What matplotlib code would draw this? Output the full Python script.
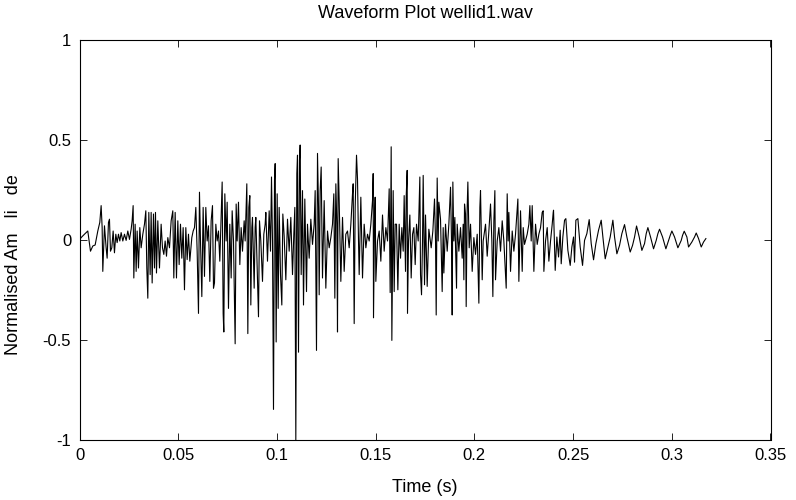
import numpy as np
import matplotlib
matplotlib.use("Agg")
import matplotlib.pyplot as plt

# Waveform of wellid1.wav: time (ms) of each turning point and its normalised amplitude
time_ms = [
    0.00, 0.83, 2.52, 4.20, 5.56, 6.74, 7.92, 9.27, 10.28, 10.96, 11.47, 11.80,
    12.65, 13.49, 14.00, 14.67, 15.18, 15.69, 16.36, 17.04, 17.71, 18.39, 19.06,
    19.74, 20.42, 21.09, 21.94, 22.78, 23.62, 24.47, 25.31, 26.16, 26.66, 27.17,
    27.51, 28.18, 28.69, 29.20, 29.87, 30.55, 31.22, 32.07, 32.91, 33.59, 34.09,
    34.60, 35.11, 35.78, 36.29, 36.80, 37.47, 37.98, 38.48, 38.99, 39.67, 40.51,
    41.35, 42.03, 42.71, 43.38, 44.06, 44.73, 45.58, 46.42, 47.26, 47.77, 48.45,
    49.12, 49.80, 50.47, 51.15, 51.82, 52.50, 53.17, 53.85, 54.53, 55.20, 55.88,
    56.89, 57.57, 58.24, 58.92, 59.59, 60.27, 60.77, 61.28, 61.96, 62.63, 63.31,
    63.98, 64.66, 65.33, 66.01, 66.68, 67.36, 67.87, 68.37, 69.05, 69.72, 70.40,
    71.07, 71.75, 72.26, 72.76, 73.10, 73.61, 74.28, 74.79, 75.46, 76.14, 76.82,
    77.32, 78.00, 78.84, 79.35, 79.85,
    80.53, 81.21, 81.88, 82.56, 83.40, 83.91, 84.75, 85.26, 85.77, 86.27, 86.78,
    87.29, 87.62, 88.47, 88.97, 89.31, 89.99, 90.66, 91.17, 91.84, 92.69, 93.36,
    94.04, 94.38, 95.22, 96.07, 96.74, 97.25, 97.75, 98.26, 98.77, 99.11, 99.61,
    100.12, 100.63, 101.13, 101.81, 102.48, 102.99, 103.66, 104.51, 105.35,
    106.20, 107.04, 107.89, 108.56, 109.07, 109.57, 110.08, 110.42, 110.93,
    111.43, 111.77, 112.28, 112.95, 113.46, 114.13, 114.98, 115.48, 116.33,
    117.17, 118.02, 118.86, 119.37, 120.04, 120.55, 121.06, 121.40, 121.90,
    122.41, 123.08, 123.93, 124.77, 125.62, 126.46, 127.31, 128.15, 128.82,
    129.33, 129.84, 130.34, 130.68, 131.02, 131.53, 132.37, 133.22, 134.06,
    134.90, 135.75, 136.59, 137.44, 138.28, 138.62, 139.13, 139.63, 140.31,
    140.81, 141.32, 141.66, 142.50, 143.35, 144.19, 145.04, 145.88, 146.72,
    147.57, 148.41, 148.75, 148.92, 149.43, 149.76, 150.10, 150.95, 151.79,
    152.63, 153.48, 154.32, 155.17, 156.01, 156.86, 157.36, 157.87, 158.21,
    158.88, 159.39, 159.90,
    160.57, 161.25, 161.92, 162.60, 163.27, 163.95, 164.45, 165.13, 165.47,
    165.97, 166.14, 166.65, 167.33, 168.00, 168.68, 169.35, 170.03, 170.70,
    171.55, 172.39, 172.73, 173.24, 173.74, 174.08, 174.76, 175.26, 176.11,
    176.95, 178.13, 178.98, 179.82, 180.33, 180.67, 181.17, 181.68, 182.02,
    182.86, 183.70, 184.21, 184.55, 185.39, 186.24, 187.08, 187.93, 188.43,
    188.77, 189.11, 189.61, 190.12, 190.97, 191.30, 192.15, 192.99, 193.84,
    194.34, 194.68, 195.02, 195.52, 195.86, 196.37, 196.71, 197.38, 198.06,
    198.90, 199.75, 200.59, 201.44, 202.28, 202.79, 203.12, 203.63, 203.97,
    204.47, 205.66, 206.50, 207.35, 208.19, 208.87, 209.37, 209.88, 210.39,
    210.72, 211.57, 212.41, 213.26, 214.10, 214.94, 216.13, 216.63, 217.14,
    217.48, 218.32, 219.17, 220.01, 220.85, 222.04, 222.54, 223.39, 224.23,
    224.74, 225.41, 226.76, 227.61, 228.12, 228.79, 229.30, 230.14, 230.99,
    231.83, 232.67, 233.52, 234.36, 234.87, 235.21, 236.05, 236.90, 237.74,
    238.58, 239.43, 239.94,
    240.10, 240.95, 241.79, 242.64, 243.48, 243.99, 244.83, 245.68, 246.35,
    247.37, 248.55, 249.39, 250.24, 250.74, 251.42, 252.43, 253.61, 254.80,
    255.81, 256.99, 258.17, 259.19, 260.37, 261.55, 262.90, 264.25, 265.10,
    266.28, 267.63, 268.81, 270.16, 271.01, 272.19, 273.54, 274.72, 276.07,
    277.25, 278.94, 280.12, 281.14, 282.15, 283.50, 284.85, 286.20, 287.05,
    287.89, 289.24, 290.76, 292.11, 292.96, 293.80, 295.32, 297.01, 298.36,
    299.21, 300.05, 301.40, 303.09, 304.78, 305.45, 306.30, 307.65, 308.49,
    310.18, 311.53, 312.38, 313.56, 314.91, 316.09, 317.27,
]

amplitude = [
    0.000, 0.012, 0.029, 0.045, -0.056, -0.030, -0.025, 0.045, 0.088, 0.172, 0.062, -0.157,
    0.071, -0.039, -0.091, 0.088, 0.104, -0.056, -0.039, 0.045, -0.064, 0.029, -0.013,
    0.029, -0.005, 0.037, -0.005, 0.029, -0.002, 0.045, 0.003, 0.054, 0.096, 0.172,
    -0.190, 0.079, -0.157, 0.045, -0.140, 0.062, -0.039, 0.029, 0.079, 0.146, -0.140,
    -0.291, 0.138, -0.173, 0.138, -0.215, 0.130, -0.140, 0.138, -0.165, 0.096, -0.140,
    0.079, -0.039, -0.072, -0.005, -0.081, 0.012, -0.039, 0.096, 0.146, -0.190, 0.138,
    -0.190, 0.096, -0.123, 0.079, -0.091, 0.062, -0.249, 0.062, -0.098, 0.029, -0.106,
    0.012, 0.045, 0.062, 0.163, -0.056, -0.367, 0.239, -0.005, -0.283, 0.163, -0.182,
    0.163, -0.005, 0.071, -0.207, 0.096, 0.172, -0.241, -0.215, 0.079, -0.005, 0.045,
    -0.106, 0.113, 0.290, -0.367, -0.460, 0.231, -0.005, 0.189, -0.342, 0.079, -0.190,
    0.146, -0.005, -0.519, 0.180, -0.005,
    0.189, -0.123, 0.062, -0.056, 0.096, -0.005, 0.281, -0.468, 0.163, 0.222, -0.325,
    0.062, 0.113, -0.241, 0.062, 0.113, -0.140, -0.384, 0.096, -0.005, -0.207, 0.029,
    0.079, 0.138, -0.106, 0.146, -0.056, 0.315, -0.005, -0.847, 0.298, 0.382, -0.510,
    0.231, -0.342, 0.163, -0.173, -0.325, 0.130, 0.020, -0.199, 0.104,
    -0.056, 0.113, -0.173, 0.029, 0.163, -1.000, 0.332, 0.424, -0.561,
    0.399, 0.475, -0.173, 0.247, -0.325, 0.205, -0.258, 0.079, -0.091,
    0.104, -0.022, 0.079, 0.247, -0.552, 0.433, 0.163, -0.274, 0.247,
    0.365, -0.190, 0.197, -0.241, 0.045, -0.039, 0.012, 0.079, 0.231,
    -0.291, 0.281, 0.079, -0.460, 0.407, 0.197, -0.207, 0.113, -0.157,
    0.029, 0.045, -0.039, 0.079, 0.231, 0.281, -0.418, 0.163, 0.424,
    0.306, -0.005, -0.173, 0.214, -0.190, 0.079, -0.039, 0.029, -0.005,
    0.079, 0.197, 0.332, -0.389, 0.096, 0.214, -0.207, -0.005, 0.045,
    -0.106, 0.125, -0.056, 0.062, -0.005, 0.256, -0.263, 0.466, -0.502,
    0.247, -0.258, 0.079,
    0.079, -0.249, 0.079, -0.091, 0.062, -0.056, 0.222, -0.157, 0.214,
    0.348, -0.367, -0.005, 0.125, -0.190, 0.029, 0.062, -0.123, 0.079,
    -0.005, 0.315, -0.173, -0.274, -0.005, 0.323, -0.224, 0.125, -0.232,
    0.054, -0.039, 0.045, 0.205, -0.005, -0.375, 0.310, -0.005, 0.189,
    0.104, -0.258, 0.062, -0.165, 0.079, -0.056, 0.079, 0.264, -0.005,
    -0.375, 0.290, -0.005, 0.113, -0.241, 0.079, -0.056, 0.062, -0.091,
    0.079, -0.199, 0.180, 0.130, -0.333, 0.163, 0.290, -0.039, 0.079,
    -0.157, 0.012, -0.072, 0.029, -0.316, 0.163, 0.247, -0.005, -0.199,
    -0.005, 0.079, -0.081, 0.045, 0.180, -0.005, -0.283, 0.096, 0.247,
    -0.199, -0.005, 0.062, -0.056, 0.096, -0.005, -0.241, 0.231, -0.005,
    0.138, -0.157, 0.045, -0.056, 0.029, 0.205, -0.207, 0.146, -0.157,
    0.062, -0.022, 0.029, 0.079, 0.172, -0.005, 0.172, -0.157, 0.079,
    -0.022, 0.029, 0.062, 0.138, 0.146, -0.157, -0.005, 0.062, -0.106,
    -0.005, 0.079, 0.138,
    0.149, -0.152, 0.015, -0.085, 0.049, -0.119, 0.015, 0.099, 0.107,
    -0.052, -0.127, -0.035, 0.015, -0.111, 0.099, 0.107, -0.035, -0.127,
    -0.002, 0.032, 0.102, -0.018, -0.099, -0.018, 0.049, 0.099, 0.015,
    -0.094, -0.035, 0.015, 0.099, 0.015, -0.069, -0.027, 0.032, 0.077,
    0.015, -0.060, -0.027, 0.015, 0.070, 0.015, -0.052, -0.018, 0.032,
    0.062, 0.015, -0.044, -0.002, 0.032, 0.054, 0.015, -0.044, -0.002,
    0.023, 0.045, 0.015, -0.039, -0.002, 0.023, 0.044, 0.015, -0.035,
    -0.010, 0.015, 0.035, 0.007, -0.035, -0.010, 0.007,
]

x_ticks = [0, 0.05, 0.1, 0.15, 0.2, 0.25, 0.3, 0.35]
x_tick_labels = ["0", "0.05", "0.1", "0.15", "0.2", "0.25", "0.3", "0.35"]
y_ticks = [-1, -0.5, 0, 0.5, 1]
y_tick_labels = ["-1", "-0.5", "0", "0.5", "1"]

plt.rcParams["font.family"] = ["Liberation Sans", "DejaVu Sans"]

W, H = 796, 500
fig = plt.figure(figsize=(W / 100, H / 100), dpi=100)
ax = fig.add_axes([79.5 / W, 60 / H, 691 / W, 400 / H])

time_s = np.asarray(time_ms) / 1000.0
ax.plot(time_s, amplitude, color="black", lw=0.8)

ax.set_xlim(0, 0.35)
ax.set_ylim(-1, 1)
ax.set_xticks(x_ticks)
ax.set_xticklabels(x_tick_labels)
ax.set_yticks(y_ticks)
ax.set_yticklabels(y_tick_labels)
ax.tick_params(direction="in", top=True, right=True, length=5, width=0.6,
               labelsize=12, pad=6, colors="black")
for s in ax.spines.values():
    s.set_linewidth(0.8)
    s.set_color("black")

fig.text(425 / W, 1 - 13 / H, "Waveform Plot wellid1.wav", ha="center", va="center", fontsize=13)
fig.text(425 / W, 1 - 487 / H, "Time (s)", ha="center", va="center", fontsize=13)
fig.text(13.5 / W, 1 - 264.5 / H, "Normalised Am   li   de", rotation=90,
         ha="center", va="center", fontsize=13)

fig.savefig("out.png", dpi=100, facecolor="white")
